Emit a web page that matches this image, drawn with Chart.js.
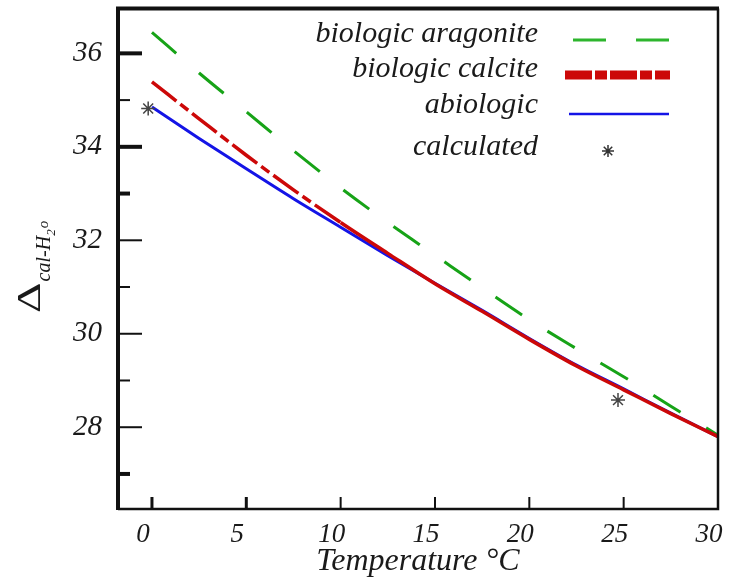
<!DOCTYPE html>
<html lang="en">
<head>
<meta charset="UTF-8">
<title>Delta cal-H2O vs temperature</title>
<script src="https://cdn.jsdelivr.net/npm/chart.js"></script>
<style>
  body { margin: 0; background: #fff; }
  #wrap { width: 729px; height: 585px; }
</style>
</head>
<body>
<div id="wrap"><canvas id="fracChart" width="729" height="585"></canvas></div>
<script>
// values
const temps = [0, 2.5, 5, 7.5, 10, 12.5, 15, 17.5, 20, 22.5, 25, 27.5, 30];
const aragonite = [36.45, 35.58, 34.75, 33.92, 33.12, 32.38, 31.68, 30.98, 30.30, 29.68, 29.08, 28.45, 27.83];
const calcite   = [35.39, 34.60, 33.82, 33.08, 32.38, 31.72, 31.07, 30.48, 29.88, 29.31, 28.80, 28.29, 27.80];
const abiologic = [34.85, 34.18, 33.53, 32.89, 32.28, 31.67, 31.08, 30.50, 29.90, 29.33, 28.82, 28.30, 27.80];
const calcTemps  = [-0.2, 24.7];
const calcValues = [34.82, 28.58];

const xTicks = [0, 5, 10, 15, 20, 25, 30];
const yTicks = [27, 28, 29, 30, 31, 32, 33, 34, 35, 36];
const yLabelled = [28, 30, 32, 34, 36];
const legendNames = ['biologic aragonite', 'biologic calcite', 'abiologic', 'calculated'];

const GREEN = '#17a317', RED = '#cc0808', BLUE = '#1414e6', INK = '#1a1a1a';
const FONT = '"Liberation Serif", "DejaVu Serif", serif';

function pts(xs, ys) { return xs.map((x, i) => ({ x: x, y: ys[i] })); }

// frame + inward tick marks
const frameTicks = {
  id: 'frameTicks',
  afterDatasetsDraw(chart) {
    const { ctx, chartArea: a, scales } = chart;
    ctx.save();
    ctx.strokeStyle = '#111';
    ctx.setLineDash([]);
    scales.y.ticks.forEach(t => {
      const py = scales.y.getPixelForValue(t.value);
      const major = yLabelled.includes(t.value);
      ctx.lineWidth = [36, 34, 33, 27].includes(t.value) ? 4 : 2;
      ctx.beginPath();
      ctx.moveTo(a.left, py);
      ctx.lineTo(a.left + (major ? 24 : 12), py);
      ctx.stroke();
    });
    scales.x.ticks.forEach(t => {
      const px = scales.x.getPixelForValue(t.value);
      ctx.lineWidth = t.value <= 5 ? 3 : 2;
      ctx.beginPath();
      ctx.moveTo(px, a.bottom);
      ctx.lineTo(px, a.bottom - 12);
      ctx.stroke();
    });
    // box
    ctx.lineWidth = 4;
    ctx.beginPath();
    ctx.moveTo(a.left, a.bottom + 1);
    ctx.lineTo(a.left, a.top);
    ctx.lineTo(a.right + 1, a.top);
    ctx.stroke();
    ctx.lineWidth = 2.5;
    ctx.beginPath();
    ctx.moveTo(a.left, a.bottom);
    ctx.lineTo(a.right, a.bottom);
    ctx.lineTo(a.right, a.top);
    ctx.stroke();
    ctx.restore();
  }
};

// y axis title with subscript, plus the boxed-in legend
const annotations = {
  id: 'annotations',
  afterDraw(chart) {
    const ctx = chart.ctx;
    ctx.save();
    ctx.fillStyle = INK;

    // Δ cal-H2O, rotated
    ctx.translate(40, 313);
    ctx.rotate(-Math.PI / 2);
    ctx.textAlign = 'left';
    ctx.textBaseline = 'alphabetic';
    ctx.font = '34px ' + FONT;
    ctx.save();
    ctx.scale(1.4, 1);
    ctx.fillText('\u0394', 0, 0);
    ctx.restore();
    let lx = ctx.measureText('\u0394').width * 1.4 + 1;
    ctx.font = 'italic 20px ' + FONT;
    ctx.fillText('cal-H', lx, 10);
    lx += ctx.measureText('cal-H').width;
    ctx.font = 'italic 13px ' + FONT;
    ctx.fillText('2', lx, 15);
    lx += ctx.measureText('2').width + 1;
    ctx.font = 'italic 15px ' + FONT;
    ctx.fillText('o', lx, 8);
    ctx.restore();

    // legend
    ctx.save();
    ctx.fillStyle = INK;
    ctx.font = 'italic 30px ' + FONT;
    ctx.textAlign = 'right';
    ctx.textBaseline = 'alphabetic';
    const rows = [42, 77, 113, 155];
    legendNames.forEach((t, i) => ctx.fillText(t, 538, rows[i]));

    ctx.lineCap = 'butt';
    ctx.strokeStyle = '#2db52d';
    ctx.lineWidth = 3;
    ctx.setLineDash([33, 30]);
    ctx.beginPath(); ctx.moveTo(573, 40); ctx.lineTo(669, 40); ctx.stroke();

    ctx.strokeStyle = RED;
    ctx.lineWidth = 9;
    ctx.setLineDash([27, 3, 12, 3]);
    ctx.beginPath(); ctx.moveTo(565, 75); ctx.lineTo(670, 75); ctx.stroke();

    ctx.strokeStyle = BLUE;
    ctx.lineWidth = 2.5;
    ctx.setLineDash([]);
    ctx.beginPath(); ctx.moveTo(569, 114); ctx.lineTo(669, 114); ctx.stroke();

    ctx.strokeStyle = '#333';
    ctx.lineWidth = 1.5;
    if (Chart.helpers && Chart.helpers.drawPoint) {
      Chart.helpers.drawPoint(ctx, { pointStyle: 'star', radius: 6, borderWidth: 1.5, rotation: 0 }, 608, 151);
    }
    ctx.restore();
  }
};

const chart = new Chart(document.getElementById('fracChart'), {
  type: 'line',
  data: {
    datasets: [
      {
        label: 'calculated',
        data: pts(calcTemps, calcValues),
        showLine: false,
        pointStyle: 'star',
        pointRadius: 7,
        pointBorderColor: '#444',
        pointBorderWidth: 1.5,
        order: 0
      },
      {
        label: 'biologic calcite',
        data: pts(temps, calcite),
        borderColor: RED,
        borderWidth: 3.5,
        pointRadius: 0,
        cubicInterpolationMode: 'monotone',
        segment: {
          borderDash: c => c.p0.parsed.x < 10 ? [31, 5, 10, 5] : []
        },
        order: 1
      },
      {
        label: 'abiologic',
        data: pts(temps, abiologic),
        borderColor: BLUE,
        borderWidth: 3,
        pointRadius: 0,
        cubicInterpolationMode: 'monotone',
        order: 2
      },
      {
        label: 'biologic aragonite',
        data: pts(temps, aragonite),
        borderColor: GREEN,
        borderWidth: 3,
        borderDash: [32, 30],
        pointRadius: 0,
        cubicInterpolationMode: 'monotone',
        order: 3
      }
    ]
  },
  options: {
    responsive: false,
    animation: false,
    layout: { padding: { top: 8, right: 11, bottom: 4, left: 0 } },
    plugins: { legend: { display: false }, tooltip: { enabled: false } },
    scales: {
      x: {
        type: 'linear',
        min: -1.8,
        max: 30,
        afterBuildTicks: s => { s.ticks = xTicks.map(v => ({ value: v })); },
        afterFit: s => { s.height = 72; s.paddingLeft = 0; s.paddingRight = 0; },
        grid: { display: false, drawTicks: false },
        border: { display: false },
        ticks: {
          padding: 10,
          labelOffset: -9,
          maxRotation: 0,
          autoSkip: false,
          color: INK,
          font: { family: FONT, size: 27, style: 'italic' },
          callback: v => String(v)
        },
        title: {
          display: true,
          text: 'Temperature \u00B0C',
          color: INK,
          padding: { top: 0, bottom: 0 },
          font: { family: FONT, size: 32, style: 'italic' }
        }
      },
      y: {
        type: 'linear',
        min: 26.25,
        max: 36.96,
        afterBuildTicks: s => { s.ticks = yTicks.map(v => ({ value: v })); },
        afterFit: s => { s.width = 118; s.paddingTop = 0; s.paddingBottom = 0; },
        grid: { display: false, drawTicks: false },
        border: { display: false },
        ticks: {
          padding: 16,
          color: INK,
          font: { family: FONT, size: 29, style: 'italic' },
          callback: v => yLabelled.includes(v) ? String(v) : ''
        }
      }
    }
  },
  plugins: [frameTicks, annotations]
});
</script>
</body>
</html>
